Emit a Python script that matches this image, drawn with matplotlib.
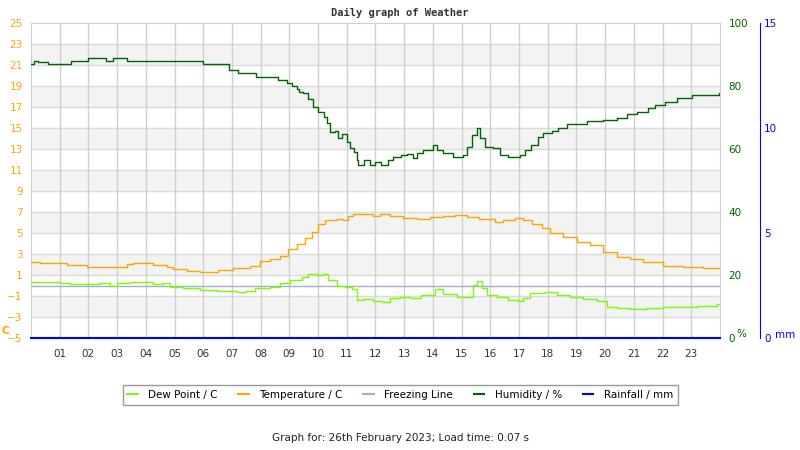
import matplotlib
matplotlib.use("Agg")
import matplotlib.pyplot as plt
from matplotlib.lines import Line2D

# readings for the day (hour of day -> value)
hum_hours = [0, 0.1, 0.25, 0.6, 1.4, 2.0, 2.6, 2.85, 3.35, 6.0,
             6.9, 7.2, 7.85, 8.6, 8.9, 9.1, 9.25, 9.35, 9.48, 9.65,
             9.83, 10.0, 10.2, 10.3, 10.43, 10.6, 10.7, 10.83, 11.0, 11.1,
             11.25, 11.35, 11.4, 11.6, 11.8, 12.0, 12.2, 12.45, 12.6, 12.9,
             13.1, 13.3, 13.45, 13.65, 14.0, 14.15, 14.35, 14.7, 15.05, 15.2,
             15.37, 15.54, 15.65, 15.8, 16.1, 16.35, 16.6, 17.04, 17.2, 17.4,
             17.67, 17.84, 18.15, 18.36, 18.67, 19.37, 19.93, 20.4, 20.77, 21.1,
             21.5, 21.75, 22.1, 22.5, 23.03, 23.95, 24]
humidity = [87, 88, 87.5, 87, 88, 89, 88, 89, 88, 87,
            85, 84, 83, 82, 81, 80, 79, 78, 77.8, 76,
            73.4, 71.7, 70.3, 68.2, 65.5, 65.8, 63.5, 64.8, 62.3, 60.3,
            59.1, 56.5, 55, 56.5, 55, 56, 55, 56.5, 57.6, 58,
            58.5, 57, 58.8, 59.7, 61.3, 59.7, 58.6, 57.6, 58, 60.7,
            64.4, 66.6, 63.4, 60.7, 60.2, 58.1, 57.4, 58.1, 59.7, 61.3,
            63.9, 65, 65.7, 66.6, 67.8, 69, 69.2, 70, 71, 71.9,
            72.9, 74, 74.8, 76.1, 77.1, 77.9, 77.9]

temp_hours = [0, 0.3, 1.25, 1.95, 2.86, 3.34, 3.55, 4.04, 4.26, 4.73,
              4.95, 5.42, 5.9, 6.5, 7.05, 7.63, 7.98, 8.33, 8.68, 8.96,
              9.26, 9.55, 9.8, 10.0, 10.25, 10.66, 10.87, 11.05, 11.22, 11.7,
              11.92, 12.16, 12.5, 12.97, 13.45, 13.9, 14.36, 14.77, 15.19, 15.6,
              16.17, 16.45, 16.86, 17.15, 17.46, 17.8, 18.08, 18.54, 19.02, 19.48,
              19.93, 20.4, 20.87, 21.32, 22.02, 22.7, 23.4, 24]
temperature = [2.2, 2.1, 1.95, 1.8, 1.8, 2.05, 2.17, 2.17, 1.95, 1.73,
               1.57, 1.41, 1.32, 1.48, 1.63, 1.86, 2.37, 2.5, 2.8, 3.44,
               4.0, 4.5, 5.12, 5.86, 6.24, 6.33, 6.24, 6.65, 6.81, 6.81,
               6.65, 6.78, 6.65, 6.46, 6.3, 6.55, 6.62, 6.68, 6.55, 6.3,
               6.08, 6.24, 6.4, 6.24, 5.86, 5.45, 4.97, 4.65, 4.17, 3.86,
               3.22, 2.75, 2.52, 2.27, 1.86, 1.8, 1.7, 1.7]

dew_hours = [0, 0.3, 1.0, 1.36, 1.95, 2.4, 2.75, 3.0, 3.45, 4.04,
             4.25, 4.6, 4.84, 5.3, 5.9, 6.48, 6.93, 7.18, 7.5, 7.8,
             8.33, 8.68, 9.02, 9.44, 9.65, 9.96, 10.17, 10.35, 10.66, 10.94,
             11.18, 11.36, 11.57, 11.92, 12.23, 12.5, 12.86, 13.2, 13.6, 14.08,
             14.36, 14.84, 15.23, 15.4, 15.53, 15.7, 15.9, 16.24, 16.62, 16.97,
             17.15, 17.38, 17.63, 17.9, 18.33, 18.78, 19.23, 19.72, 20.07, 20.4,
             20.87, 21.46, 22.02, 22.5, 23.2, 23.9, 24]
dew_point = [0.31, 0.36, 0.27, 0.14, 0.11, 0.21, -0.02, 0.21, 0.36, 0.36,
             0.14, 0.21, -0.11, -0.27, -0.43, -0.5, -0.5, -0.59, -0.5, -0.21,
             -0.11, 0.21, 0.52, 0.84, 1.1, 1.0, 1.1, 0.52, -0.05, -0.17,
             -0.36, -1.38, -1.31, -1.45, -1.55, -1.17, -1.07, -1.17, -0.9, -0.36,
             -0.84, -1.12, -1.07, 0.05, 0.46, -0.27, -0.9, -1.12, -1.38, -1.45,
             -1.22, -0.68, -0.74, -0.62, -0.9, -1.12, -1.31, -1.48, -2.02, -2.17,
             -2.24, -2.17, -2.08, -2.02, -1.95, -1.76, -1.76]

rain_hours = [0, 24]
rainfall = [0, 0]
freeze_hours = [0, 24]
freezing = [0, 0]

hour_labels = ["%02d" % h for h in range(1, 24)]

c_dew = "#7cfc00"
c_temp = "#ffa500"
c_freeze = "#a0b0c8"
c_hum = "#006400"
c_rain = "#0000ff"

plt.rcParams["font.family"] = "DejaVu Sans"
fig = plt.figure(figsize=(8, 4.5), dpi=100)
ax = fig.add_axes([31 / 800, 112 / 450, 689 / 800, 315 / 450])

ax.set_xlim(0, 24)
ax.set_ylim(-5, 25)
# alternating bands
for lo in range(-3, 25, 4):
    ax.axhspan(lo, lo + 2, color="#f3f3f3", zorder=0)
for y in range(-3, 25, 2):
    ax.axhline(y, color="#dcdcdc", lw=1, zorder=1)
for h in range(1, 24):
    ax.axvline(h, color="#d0d0d0", lw=1, zorder=1)
for s in ax.spines.values():
    s.set_color("#d0d0d0")

ax.set_yticks(range(-5, 26, 2))
ax.tick_params(axis="y", colors=c_temp, length=0, pad=6, labelsize=7.5)
ax.set_xticks(range(1, 24))
ax.set_xticklabels(hour_labels)
ax.tick_params(axis="x", colors="#333333", length=0, pad=8, labelsize=7.5)
for t in ax.get_yticklabels():
    t.set_color(c_temp)

ax.plot(freeze_hours, freezing, color=c_freeze, lw=1, zorder=3)
ax.plot(dew_hours, dew_point, color=c_dew, lw=1, drawstyle="steps-post", zorder=4)
ax.plot(temp_hours, temperature, color=c_temp, lw=1, drawstyle="steps-post", zorder=4)

ax2 = ax.twinx()
ax2.set_ylim(0, 100)
ax2.set_yticks(range(0, 101, 20))
ax2.tick_params(axis="y", colors=c_hum, length=0, pad=6, labelsize=7.5)
for s in ax2.spines.values():
    s.set_visible(False)
ax2.plot(hum_hours, humidity, color=c_hum, lw=1, drawstyle="steps-post", zorder=5)

ax3 = ax.twinx()
ax3.set_ylim(0, 15)
ax3.set_yticks([0, 5, 10, 15])
ax3.spines["right"].set_position(("axes", (760 - 31) / 689))
ax3.spines["right"].set_color(c_rain)
for k in ["top", "left", "bottom"]:
    ax3.spines[k].set_visible(False)
ax3.tick_params(axis="y", colors=c_rain, length=0, pad=3, labelsize=7.5)
ax3.plot(rain_hours, rainfall, color=c_rain, lw=1.5, zorder=6, clip_on=False)

fig.text(2 / 800, 1 - 331 / 450, "C", color=c_temp, fontsize=7.5, fontweight="bold", va="center")
fig.text(736 / 800, 1 - 334 / 450, "%", color=c_hum, fontsize=7.5, va="center")
fig.text(775 / 800, 1 - 335 / 450, "mm", color=c_rain, fontsize=7.5, va="center")

fig.text(0.5, 1 - 13 / 450, "Daily graph of Weather", ha="center", va="center",
         family="DejaVu Sans Mono", fontweight="bold", fontsize=7.5, color="#333333")

handles = [Line2D([], [], color=c_dew, lw=1.5),
           Line2D([], [], color=c_temp, lw=1.5),
           Line2D([], [], color=c_freeze, lw=1.5),
           Line2D([], [], color=c_hum, lw=1.5),
           Line2D([], [], color=c_rain, lw=1.5)]
names = ["Dew Point / C", "Temperature / C", "Freezing Line", "Humidity / %", "Rainfall / mm"]
leg = fig.legend(handles, names, loc="center", bbox_to_anchor=(0.5, 1 - 395 / 450),
                 ncol=5, fontsize=7.5, frameon=True, fancybox=False,
                 handlelength=1.0, handletextpad=1.0, columnspacing=2.0,
                 borderpad=0.45)
leg.get_frame().set_edgecolor("#808080")
leg.get_frame().set_linewidth(1)

fig.text(0.5, 1 - 438 / 450, "Graph for: 26th February 2023; Load time: 0.07 s",
         ha="center", va="center", fontsize=7.5, color="#222222")

fig.savefig("out.png", dpi=100)
